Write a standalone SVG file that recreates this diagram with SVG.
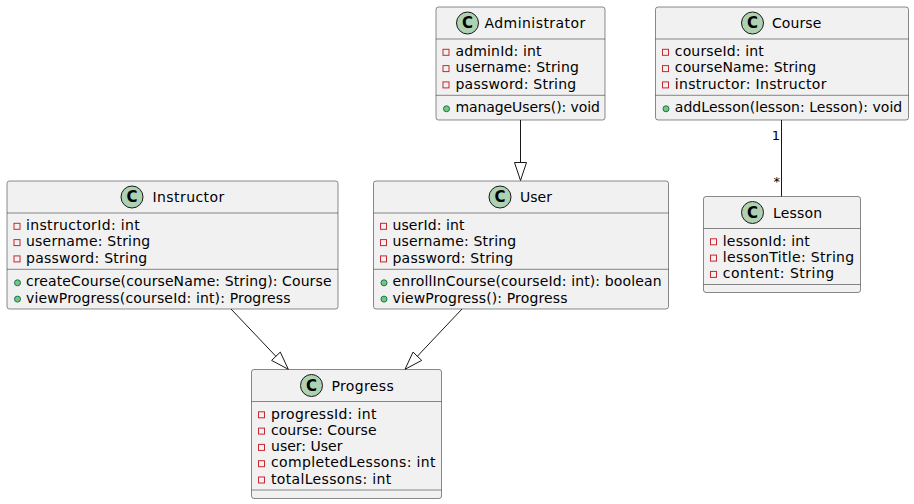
<svg xmlns="http://www.w3.org/2000/svg" width="914" height="504" viewBox="0 0 914 504">
<defs>
<style>
.box{fill:#F1F1F1;stroke:#181818;stroke-width:0.5}
.sep{stroke:#181818;stroke-width:0.5}
.circ{fill:#ADD1B2;stroke:#181818;stroke-width:1}
.cl{font-family:"DejaVu Sans",sans-serif;font-size:14px;fill:#000000}
.cg{font-family:"DejaVu Sans",sans-serif;font-size:15px;font-weight:bold;fill:#000000;text-anchor:middle}
.t{font-family:"DejaVu Sans",sans-serif;font-size:14px;fill:#000000}
.priv{fill:none;stroke:#C82930;stroke-width:1}
.pub{fill:#84BE84;stroke:#038048;stroke-width:1}
.edge{fill:none;stroke:#181818;stroke-width:1}
.head{fill:none;stroke:#181818;stroke-width:1}
.lbl{font-family:"DejaVu Sans",sans-serif;font-size:13px;fill:#000000;text-anchor:end}
</style>
</defs>
<rect width="914" height="504" fill="#FFFFFF"/>

<g id="Administrator">
<rect class="box" x="436" y="7" width="169" height="113" rx="2.5"/>
<circle class="circ" cx="467.5" cy="23" r="11"/>
<text class="cg" x="467.5" y="28.3">C</text>
<text class="cl" x="484.5" y="28.3" textLength="100.8">Administrator</text>
<line class="sep" x1="436" y1="39" x2="605" y2="39"/>
<rect class="priv" x="443" y="49.3" width="6" height="6"/>
<text class="t" x="455.5" y="56" textLength="86">adminId: int</text>
<rect class="priv" x="443" y="65.6" width="6" height="6"/>
<text class="t" x="455.5" y="72.3" textLength="123.3">username: String</text>
<rect class="priv" x="443" y="81.9" width="6" height="6"/>
<text class="t" x="455.5" y="88.6" textLength="120.7">password: String</text>
<line class="sep" x1="436" y1="95.3" x2="605" y2="95.3"/>
<circle class="pub" cx="446.5" cy="108.8" r="3"/>
<text class="t" x="455.5" y="112.3" textLength="144.3">manageUsers(): void</text>
</g>

<g id="Course">
<rect class="box" x="655.5" y="7" width="253" height="113" rx="2.5"/>
<circle class="circ" cx="752.5" cy="23" r="11"/>
<text class="cg" x="752.5" y="28.3">C</text>
<text class="cl" x="772" y="28.3" textLength="49.3">Course</text>
<line class="sep" x1="655.5" y1="39" x2="908.5" y2="39"/>
<rect class="priv" x="662.5" y="49.3" width="6" height="6"/>
<text class="t" x="674.8" y="56" textLength="89">courseId: int</text>
<rect class="priv" x="662.5" y="65.6" width="6" height="6"/>
<text class="t" x="674.8" y="72.3" textLength="141.4">courseName: String</text>
<rect class="priv" x="662.5" y="81.9" width="6" height="6"/>
<text class="t" x="674.8" y="88.6" textLength="151.7">instructor: Instructor</text>
<line class="sep" x1="655.5" y1="95.3" x2="908.5" y2="95.3"/>
<circle class="pub" cx="666" cy="108.8" r="3"/>
<text class="t" x="674.8" y="112.3" textLength="227.4">addLesson(lesson: Lesson): void</text>
</g>

<g id="Lesson">
<rect class="box" x="703.5" y="196.5" width="157" height="96" rx="2.5"/>
<circle class="circ" cx="752.5" cy="212.5" r="11"/>
<text class="cg" x="752.5" y="217.8">C</text>
<text class="cl" x="773" y="217.8" textLength="49">Lesson</text>
<line class="sep" x1="703.5" y1="228.5" x2="860.5" y2="228.5"/>
<rect class="priv" x="710.5" y="238.8" width="6" height="6"/>
<text class="t" x="722.8" y="245.5" textLength="87">lessonId: int</text>
<rect class="priv" x="710.5" y="255.1" width="6" height="6"/>
<text class="t" x="722.8" y="261.8" textLength="131.4">lessonTitle: String</text>
<rect class="priv" x="710.5" y="271.4" width="6" height="6"/>
<text class="t" x="722.8" y="278.1" textLength="111.4">content: String</text>
<line class="sep" x1="703.5" y1="284.5" x2="860.5" y2="284.5"/>
</g>

<g id="Instructor">
<rect class="box" x="7" y="181" width="331" height="128" rx="2.5"/>
<circle class="circ" cx="132" cy="197" r="11"/>
<text class="cg" x="132" y="202.3">C</text>
<text class="cl" x="152.5" y="202.3" textLength="71.8">Instructor</text>
<line class="sep" x1="7" y1="213" x2="338" y2="213"/>
<rect class="priv" x="14" y="223.3" width="6" height="6"/>
<text class="t" x="26" y="230" textLength="113.8">instructorId: int</text>
<rect class="priv" x="14" y="239.6" width="6" height="6"/>
<text class="t" x="26" y="246.3" textLength="124.2">username: String</text>
<rect class="priv" x="14" y="255.9" width="6" height="6"/>
<text class="t" x="26" y="262.6" textLength="121.2">password: String</text>
<line class="sep" x1="7" y1="269.3" x2="338" y2="269.3"/>
<circle class="pub" cx="17.5" cy="282.8" r="3"/>
<text class="t" x="26" y="286.3" textLength="305.5">createCourse(courseName: String): Course</text>
<circle class="pub" cx="17.5" cy="299.1" r="3"/>
<text class="t" x="26" y="302.6" textLength="264.5">viewProgress(courseId: int): Progress</text>
</g>

<g id="User">
<rect class="box" x="373.5" y="181" width="295" height="128" rx="2.5"/>
<circle class="circ" cx="500" cy="197" r="11"/>
<text class="cg" x="500" y="202.3">C</text>
<text class="cl" x="520" y="202.3" textLength="32">User</text>
<line class="sep" x1="373.5" y1="213" x2="668.5" y2="213"/>
<rect class="priv" x="380.5" y="223.3" width="6" height="6"/>
<text class="t" x="392.5" y="230" textLength="72">userId: int</text>
<rect class="priv" x="380.5" y="239.6" width="6" height="6"/>
<text class="t" x="392.5" y="246.3" textLength="123.7">username: String</text>
<rect class="priv" x="380.5" y="255.9" width="6" height="6"/>
<text class="t" x="392.5" y="262.6" textLength="120.7">password: String</text>
<line class="sep" x1="373.5" y1="269.3" x2="668.5" y2="269.3"/>
<circle class="pub" cx="384" cy="282.8" r="3"/>
<text class="t" x="392.5" y="286.3" textLength="269">enrollInCourse(courseId: int): boolean</text>
<circle class="pub" cx="384" cy="299.1" r="3"/>
<text class="t" x="392.5" y="302.6" textLength="175">viewProgress(): Progress</text>
</g>

<g id="Progress">
<rect class="box" x="251.5" y="369.5" width="190" height="129" rx="2.5"/>
<circle class="circ" cx="311.5" cy="385.5" r="11"/>
<text class="cg" x="311.5" y="390.8">C</text>
<text class="cl" x="331.5" y="390.8" textLength="62.3">Progress</text>
<line class="sep" x1="251.5" y1="401.5" x2="441.5" y2="401.5"/>
<rect class="priv" x="258.5" y="411.8" width="6" height="6"/>
<text class="t" x="271" y="418.5" textLength="105.5">progressId: int</text>
<rect class="priv" x="258.5" y="428.1" width="6" height="6"/>
<text class="t" x="271" y="434.8" textLength="105.5">course: Course</text>
<rect class="priv" x="258.5" y="444.4" width="6" height="6"/>
<text class="t" x="271" y="451.1" textLength="71.5">user: User</text>
<rect class="priv" x="258.5" y="460.7" width="6" height="6"/>
<text class="t" x="271" y="467.4" textLength="164.5">completedLessons: int</text>
<rect class="priv" x="258.5" y="477" width="6" height="6"/>
<text class="t" x="271" y="483.7" textLength="120.2">totalLessons: int</text>
<line class="sep" x1="251.5" y1="490" x2="441.5" y2="490"/>
</g>

<g id="connectors">
<path class="edge" d="M520.5,120 L520.5,162.5"/>
<polygon class="head" points="520.5,180.5 514.5,162.5 526.5,162.5"/>
<path class="edge" d="M781.5,120 L781.5,196.5"/>
<text class="lbl" x="780" y="140">1</text>
<text class="lbl" x="780" y="186">*</text>
<path class="edge" d="M231,309 L275.9,356.3"/>
<polygon class="head" points="288.3,369.3 271.6,360.4 280.3,352.1"/>
<path class="edge" d="M462,309 L417.3,356.3"/>
<polygon class="head" points="405,369.3 421.7,360.4 413,352.1"/>
</g>
</svg>
